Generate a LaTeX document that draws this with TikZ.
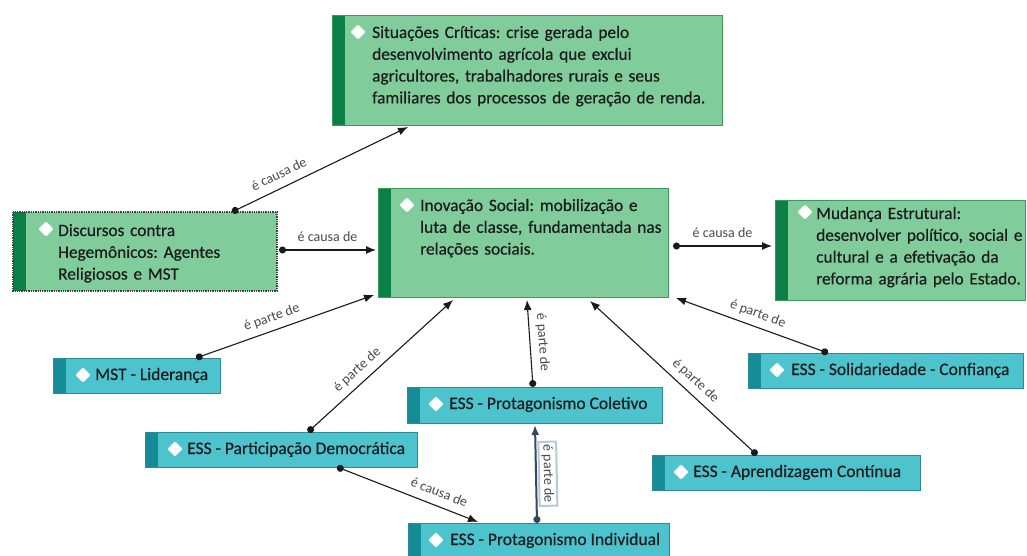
\documentclass[tikz,border=0pt]{standalone}
\usepackage{fontspec}
\setmainfont{Carlito}
\newfontfamily\boxfont{Carlito}[FakeBold=0.45]
\frenchspacing
\usetikzlibrary{shapes.geometric,calc,arrows.meta}

\definecolor{gfill}{HTML}{80CC9A}
\definecolor{gbar}{HTML}{0B8046}
\definecolor{gline}{HTML}{3A9A5C}
\definecolor{tfill}{HTML}{4DC3CE}
\definecolor{tbar}{HTML}{148B95}
\definecolor{tline}{HTML}{2A8C96}
\definecolor{txt}{HTML}{1C1C1C}
\definecolor{lbltxt}{HTML}{4A4A4A}
\definecolor{conn}{HTML}{1A1A1A}
\definecolor{selconn}{HTML}{34485E}
\definecolor{selframe}{HTML}{B7C9D8}

\tikzset{
  box/.style={rectangle, anchor=north west, inner sep=0pt, outer sep=0pt, line width=0.8pt},
  gbox/.style={box, fill=gfill, draw=gline,
    path picture={\fill[gbar] (path picture bounding box.north west) rectangle ($(path picture bounding box.south west)+(13,0)$);}},
  tbox/.style={box, fill=tfill, draw=tline,
    path picture={\fill[tbar] (path picture bounding box.north west) rectangle ($(path picture bounding box.south west)+(13,0)$);}},
  dmd/.style={diamond, fill=white, draw=white!85!gfill, line width=0.4pt, inner sep=0pt,
    minimum width=15, minimum height=15, rounded corners=1.2pt},
  gtxt/.style={anchor=base west, inner sep=0pt, align=left, text=txt,
    font=\boxfont\fontsize{17.3}{21.8}\selectfont},
  ttxt/.style={anchor=base west, inner sep=0pt, text=txt,
    font=\boxfont\fontsize{17.5}{20}\selectfont},
  link/.style={draw=conn, line width=1.1pt,
    {Circle[length=7pt]}-{Latex[length=10pt,width=8pt]}},
  sellink/.style={draw=selconn, line width=2pt,
    {Circle[length=7pt]}-{Latex[length=10pt,width=8pt]}},
  lbl/.style={sloped, anchor=south, inner sep=1pt, outer sep=0pt, outer ysep=8pt,
    text depth=0pt, text=lbltxt, font=\fontsize{14}{16}\selectfont},
  sellbl/.style={lbl, draw=selframe, fill=white, inner sep=3pt, outer ysep=3pt, text depth=2pt}
}

\begin{document}
\begin{tikzpicture}[x=1pt,y=-1pt]
\useasboundingbox (0,0) rectangle (1027,556);
\fill[white] (0,0) rectangle (1027,556);

% ---- green concept boxes ----
\node[gbox, minimum width=390, minimum height=110] (sit) at (332,15) {};
\node[dmd] (sit-d) at (358,32) {};
\node[gtxt, text width=345] (sit-t) at (372,38)
  {Situações Críticas: crise gerada pelo\\desenvolvimento agrícola que exclui\\agricultores, trabalhadores rurais e seus\\familiares dos processos de geração de renda.};

\node[gbox, draw=none, minimum width=264, minimum height=79] (disc) at (13,212) {};
\draw[densely dotted, line width=1.3pt, draw=black!75] (disc.north west) rectangle (disc.south east);
\node[dmd] (disc-d) at (46,229) {};
\node[gtxt, text width=215] (disc-t) at (58,236)
  {Discursos contra\\Hegemônicos: Agentes\\Religiosos e MST};

\node[gbox, minimum width=290, minimum height=109] (inov) at (378,188) {};
\node[dmd] (inov-d) at (407,205) {};
\node[gtxt, text width=245] (inov-t) at (420,211)
  {Inovação Social: mobilização e\\luta de classe, fundamentada nas\\relações sociais.};

\node[gbox, minimum width=250, minimum height=100] (mud) at (775,200) {};
\node[dmd] (mud-d) at (805,212) {};
\node[gtxt, text width=210] (mud-t) at (816,219)
  {Mudança Estrutural:\\desenvolver político, social e\\cultural e a efetivação da\\reforma agrária pelo Estado.};

% ---- teal concept boxes ----
\node[tbox, minimum width=167, minimum height=35] (mst) at (53,358) {};
\node[dmd] (mst-d) at (83,375) {};
\node[ttxt] (mst-t) at (95,380) {MST - Liderança};

\node[tbox, minimum width=275, minimum height=35] (sol) at (748,353) {};
\node[dmd] (sol-d) at (777,370) {};
\node[ttxt] (sol-t) at (791,375) {ESS - Solidariedade - Confiança};

\node[tbox, minimum width=255, minimum height=36] (col) at (407,387) {};
\node[dmd] (col-d) at (436,404) {};
\node[ttxt] (col-t) at (449,409) {ESS - Protagonismo Coletivo};

\node[tbox, minimum width=272, minimum height=35] (part) at (145,432) {};
\node[dmd] (part-d) at (175,449) {};
\node[ttxt] (part-t) at (187,454) {ESS - Participação Democrática};

\node[tbox, minimum width=268, minimum height=35] (apr) at (652,455) {};
\node[dmd] (apr-d) at (681,472) {};
\node[ttxt] (apr-t) at (693,477) {ESS - Aprendizagem Contínua};

\node[tbox, minimum width=261, minimum height=40] (ind) at (408,523) {};
\node[dmd] (ind-d) at (436,540) {};
\node[ttxt] (ind-t) at (450,545) {ESS - Protagonismo Individual};

% ---- connectors ----
\draw[link] ($(disc.north west)+(219,0)$) -- ($(sit.south west)+(76,2)$)
  node[lbl, pos=0.3] (l1) {é causa de};
\draw[link] ($(disc.north east)+(2,38)$) -- ($(inov.north west)+(-2,62)$)
  node[lbl, pos=0.5] (l2) {é causa de};
\draw[link] ($(inov.north east)+(5,58)$) -- ($(mud.north west)+(-3,46)$)
  node[lbl, pos=0.5] (l3) {é causa de};
\draw[link] ($(mst.north west)+(143,0)$) -- ($(inov.south west)+(-4,-2)$)
  node[lbl, pos=0.45] (l4) {é parte de};
\draw[link] ($(part.north west)+(163,0)$) -- ($(inov.south west)+(75,3)$)
  node[lbl, pos=0.4] (l5) {é parte de};
\draw[link] ($(col.north west)+(126,0)$) -- ($(inov.south west)+(149,3)$)
  node[lbl, pos=0.5] (l6) {é parte de};
\draw[sellink] ($(ind.north west)+(129,0)$) -- ($(col.south west)+(128,2)$)
  node[sellbl, pos=0.5] (l7) {é parte de};
\draw[link] ($(apr.north west)+(105,0)$) -- ($(inov.south west)+(212,4)$)
  node[lbl, pos=0.42] (l8) {é parte de};
\draw[link] ($(sol.north west)+(80,0)$) -- ($(inov.south east)+(8,1)$)
  node[lbl, pos=0.49] (l9) {é parte de};
\draw[link] ($(part.south west)+(192,0)$) -- ($(ind.north west)+(70,-1)$)
  node[lbl, pos=0.69] (l10) {é causa de};
\end{tikzpicture}
\end{document}
